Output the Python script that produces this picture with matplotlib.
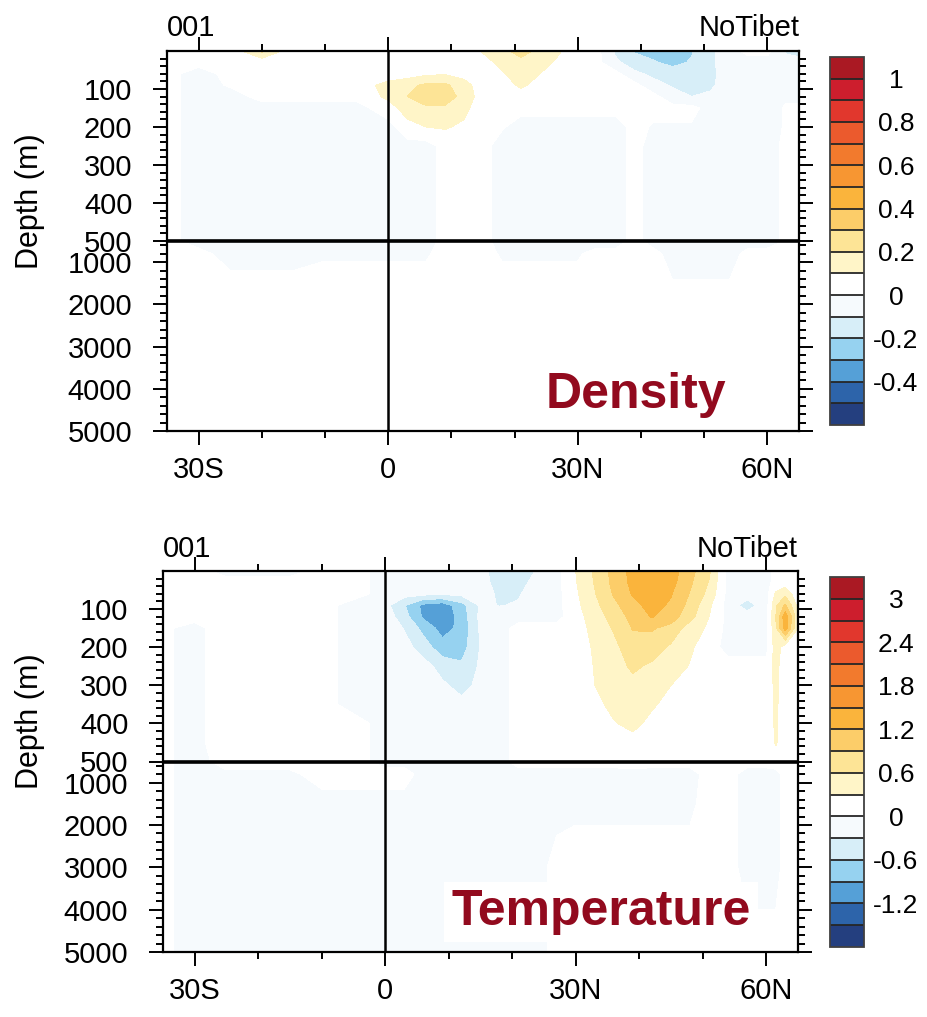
import numpy as np
import matplotlib.pyplot as plt

plt.rcParams['font.family'] = ['Liberation Sans', 'DejaVu Sans']

# grid: latitude (deg, negative = south) and depth (m)
lats = [-35, -30, -25, -20, -15, -10, -5, 0, 3, 6, 9, 12, 15, 18, 21, 24, 27,
        30, 33, 36, 39, 42, 45, 48, 51, 54, 57, 60, 61.5, 63, 65]
depths = [0, 30, 60, 90, 120, 150, 200, 250, 300, 350, 400, 450, 500,
          800, 1500, 3000, 5000]

# density anomaly, in units of 0.01 (one row per depth)
density_x100 = [
    [3, 3, 3, 22, 3, 3, 3, 3, 3, 3, 3, 3, 11, 17, 24, 17, 11, 4, 3, -12, -21, -24, -27, -21, -12, -4, 3, 3, -5, -12, -14],
    [3, 3, 3, 3, 3, 3, 3, 3, 3, 3, 3, 3, 6, 13, 17, 14, 8, 3, 3, -8, -15, -19, -23, -19, -12, -4, -4, -4, -4, -5, -6],
    [3, -4, 3, 3, 3, 3, 3, 3, 5, 8, 9, 6, 3, 9, 14, 10, 4, 3, 3, 3, -8, -12, -15, -16, -13, -4, -4, -4, -4, -4, -4],
    [3, -4, 1, 3, 3, 3, 4, 14, 17, 22, 22, 14, 4, 5, 12, 6, 3, 3, 3, 3, 3, -7, -11, -14, -12, -4, -4, -4, -4, -4, -4],
    [3, -4, -4, 3, 3, 3, 3, 12, 20, 27, 26, 16, 5, 3, 4, 3, 3, 3, 3, 3, 3, 3, -6, -10, -8, -4, -4, -4, -4, -4, -4],
    [3, -4, -4, -4, -4, -4, -4, 6, 14, 18, 18, 13, 3, 3, 3, 3, 3, 3, 3, 3, 3, 3, 3, 3, -4, -4, -4, -4, -4, 3, 3],
    [3, -4, -4, -4, -4, -4, -4, -4, 7, 10, 11, 8, 3, 1, -4, -4, -4, -4, -4, -4, 3, -1, -1, -1, -4, -4, -4, -4, -4, 3, 3],
    [3, -4, -4, -4, -4, -4, -4, -4, -4, -4, 3, 3, 3, -4, -4, -4, -4, -4, -4, -4, 3, -4, -4, -4, -4, -4, -4, -4, -1, 3, 3],
    [3, -4, -4, -4, -4, -4, -4, -4, -4, -4, 3, 3, 3, -4, -4, -4, -4, -4, -4, -4, 3, -4, -4, -4, -4, -4, -4, -4, -1, 3, 3],
    [3, -4, -4, -4, -4, -4, -4, -4, -4, -4, 3, 3, 3, -4, -4, -4, -4, -4, -4, -4, 3, -4, -4, -4, -4, -4, -4, -4, -1, 3, 3],
    [3, -4, -4, -4, -4, -4, -4, -4, -4, -4, 3, 3, 3, -4, -4, -4, -4, -4, -4, -4, 3, -4, -4, -4, -4, -4, -4, -4, -1, 3, 3],
    [3, -4, -4, -4, -4, -4, -4, -4, -4, -4, 3, 3, 3, -4, -4, -4, -4, -4, -4, -4, 3, -4, -4, -4, -4, -4, -4, -4, -1, 3, 3],
    [3, -4, -4, -4, -4, -4, -4, -4, -4, -4, 3, 3, 3, -4, -4, -4, -4, -4, -4, -4, 3, -4, -4, -4, -4, -4, -4, -4, -1, 3, 3],
    [3, 3, -4, -4, -4, -1, -1, -1, -1, -1, 3, 3, 3, -1, -1, -1, -1, -1, 3, 3, 3, 3, -4, -4, -4, -4, 3, 3, 3, 3, 3],
    [3, 3, 3, 3, 3, 3, 3, 3, 3, 3, 3, 3, 3, 3, 3, 3, 3, 3, 3, 3, 3, 3, 0.5, 0.5, 0.5, 0.5, 3, 3, 3, 3, 3],
    [3, 3, 3, 3, 3, 3, 3, 3, 3, 3, 3, 3, 3, 3, 3, 3, 3, 3, 3, 3, 3, 3, 3, 3, 3, 3, 3, 3, 3, 3, 3],
    [3, 3, 3, 3, 3, 3, 3, 3, 3, 3, 3, 3, 3, 3, 3, 3, 3, 3, 3, 3, 3, 3, 3, 3, 3, 3, 3, 3, 3, 3, 3],
]

# temperature anomaly, in units of 0.01 degC
temperature_x100 = [
    [10, 10, -10, -10, -10, 10, 10, -10, -10, -10, -10, -10, -22, -42, -42, -28, -10, 30, 65, 100, 130, 140, 135, 100, 65, -10, -10, -10, 10, 10, 10],
    [10, 10, 10, 10, 10, 10, 10, -10, -10, -12, -12, -12, -20, -40, -38, -22, -10, 28, 62, 98, 128, 142, 130, 95, 58, -10, -10, -10, 10, 15, 10],
    [10, 10, 10, 10, 10, 10, 10, -10, -18, -22, -25, -22, -15, -36, -32, -18, -10, 25, 58, 93, 123, 140, 122, 88, 50, -10, -15, -10, 35, 50, 10],
    [10, 10, 10, 10, 10, 10, -10, -20, -58, -98, -108, -72, -25, -31, -28, -12, -10, 22, 52, 82, 110, 132, 115, 80, 36, -12, -45, -12, 55, 95, 20],
    [10, 10, 10, 10, 10, 10, -10, -12, -48, -95, -112, -78, -22, -18, -12, -10, -10, 18, 45, 72, 100, 122, 105, 70, 30, -10, -15, -10, 60, 140, 35],
    [5, -10, 20, 10, 10, 10, -10, -8, -32, -70, -102, -82, -25, -12, 10, 10, 10, 15, 40, 63, 92, 93, 80, 45, 25, -10, -10, -10, 55, 135, 30],
    [5, -10, 20, 10, 10, 10, -10, -10, -18, -45, -78, -74, -28, -10, 10, 10, 10, 10, 35, 52, 78, 75, 55, 35, 12, -10, -10, -10, 45, 15, 10],
    [5, -10, 20, 10, 10, 10, -10, -10, -12, -18, -42, -55, -25, -10, 10, 10, 10, 8, 32, 48, 65, 55, 45, 28, 10, 10, 10, 10, 40, 10, 10],
    [5, -10, 20, 10, 10, 10, -10, -10, -10, -12, -25, -40, -22, -10, 10, 10, 10, 5, 30, 42, 52, 45, 30, 18, 10, 10, 10, 10, 38, 10, 10],
    [5, -10, 20, 10, 10, 10, -10, -10, -10, -10, -15, -22, -15, -10, 10, 10, 10, 5, 22, 38, 45, 34, 20, 10, 10, 10, 10, 10, 36, 10, 10],
    [5, -10, 20, 10, 10, 10, 10, -10, -10, -10, -10, -10, -10, -10, 10, 10, 10, 5, 15, 28, 38, 22, 10, 10, 10, 10, 10, 10, 35, 10, 10],
    [5, -10, 20, 10, 10, 10, 10, -10, -10, -10, -10, -10, -10, -10, 10, 10, 10, 5, 10, 15, 20, 15, 10, 10, 10, 10, 10, 10, 33, 10, 10],
    [5, -10, 10, 10, 10, 10, 10, -10, -10, -10, -10, -10, -10, -10, 10, 10, 10, 10, 10, 10, 12, 10, 10, 10, 10, 10, 10, 10, 15, 10, 10],
    [5, -10, -5, -5, -5, 10, 10, 10, 10, -10, -10, -10, -10, -10, -10, -10, -10, -10, -10, -10, -10, -10, -10, -10, 10, 10, -10, -10, -10, 10, 10],
    [5, -10, -10, -10, -10, -10, -10, -10, -10, -10, -10, -10, -10, -10, -10, -10, -10, -5, -5, -5, -5, -5, -5, -5, 10, 10, -10, -10, -10, 10, 10],
    [5, -10, -10, -10, -10, -10, -10, -10, -10, -10, -10, -10, -10, -10, -10, -10, 10, 10, 10, 10, 10, 10, 10, 10, 10, 10, -10, -10, -10, 10, 10],
    [5, -10, -10, -10, -10, -10, -10, -10, -10, -10, -10, -10, -10, -10, -10, -10, 10, 10, 10, 10, 10, 10, 10, 10, 10, 10, 10, 10, 10, 10, 10],
]

density_levels = [-0.5, -0.4, -0.3, -0.2, -0.1, 0, 0.1, 0.2, 0.3, 0.4, 0.5, 0.6, 0.7, 0.8, 0.9, 1.0]
density_ticks = [1.0, 0.8, 0.6, 0.4, 0.2, 0, -0.2, -0.4]
density_ticklabels = ['1', '0.8', '0.6', '0.4', '0.2', '0', '-0.2', '-0.4']

temp_levels = [-1.5, -1.2, -0.9, -0.6, -0.3, 0, 0.3, 0.6, 0.9, 1.2, 1.5, 1.8, 2.1, 2.4, 2.7, 3.0]
temp_ticks = [3.0, 2.4, 1.8, 1.2, 0.6, 0, -0.6, -1.2]
temp_ticklabels = ['3', '2.4', '1.8', '1.2', '0.6', '0', '-0.6', '-1.2']

# 17 fill colours, low to high (ends are the out-of-range boxes)
fill_colors = ['#243F7F', '#2D64AA', '#55A0D7', '#96D2F0', '#D7EEF8', '#F6FAFD',
               '#FFFFFF', '#FFF5C8', '#FDE496', '#FCCD69', '#FAB43C', '#F79632',
               '#F27A2D', '#EB5A2D', '#E1372D', '#CD1E2D', '#AA1923']

depth_major = [100, 200, 300, 400, 500, 1000, 2000, 3000, 4000, 5000]
depth_labels = ['100', '200', '300', '400', '500', '1000', '2000', '3000', '4000', '5000']
depth_minor = [20, 40, 60, 80, 120, 140, 160, 180, 220, 240, 260, 280, 320, 340, 360, 380,
               420, 440, 460, 480, 600, 800, 1200, 1400, 1600, 1800, 2200, 2400, 2600, 2800,
               3200, 3400, 3600, 3800, 4200, 4400, 4600, 4800]
lat_major = [-30, 0, 30, 60]
lat_labels = ['30S', '0', '30N', '60N']
lat_minor = [-20, -10, 10, 20, 40, 50]


# upper 500 m and the 500-5000 m part each take half of the axis height
def depth_fwd(d):
    d = np.asarray(d, dtype=float)
    return np.where(d <= 500, d / 500.0, 1.0 + (d - 500.0) / 4500.0)


def depth_inv(y):
    y = np.asarray(y, dtype=float)
    return np.where(y <= 1.0, y * 500.0, 500.0 + (y - 1.0) * 4500.0)


W, H = 928, 1017
fig = plt.figure(figsize=(W / 100, H / 100), dpi=100)


def fbox(x0, y0, x1, y1):
    # pixel box (top-left origin) -> figure fraction rect
    return [x0 / W, 1 - y1 / H, (x1 - x0) / W, (y1 - y0) / H]


def panel(rect, crect, field, scale, levels, ticks, ticklabels, ytop, title_x0, title_x1):
    ax = fig.add_axes(fbox(*rect))
    z = np.array(field, dtype=float) / scale
    cs = ax.contourf(lats, depths, z, levels=levels, colors=fill_colors, extend='both')
    ax.set_yscale('function', functions=(depth_fwd, depth_inv))
    ax.set_ylim(5000, 0)
    ax.set_xlim(-35, 65)

    ax.axhline(500, color='black', lw=2.6, zorder=3)
    ax.axvline(0, color='black', lw=1.8, zorder=3)

    ax.set_yticks(depth_major, depth_labels)
    ax.set_yticks(depth_minor, minor=True)
    ax.set_xticks(lat_major, lat_labels)
    ax.set_xticks(lat_minor, minor=True)
    ax.tick_params(which='both', direction='out', top=True, right=True, width=1.4, color='black')
    ax.tick_params(which='major', length=10, labelsize=21)
    ax.tick_params(which='minor', length=5)
    ax.tick_params(axis='y', pad=15)
    ax.tick_params(axis='x', pad=8)
    for sp in ax.spines.values():
        sp.set_linewidth(1.6)

    fig.text(30 / W, 1 - (rect[1] + 150) / H, 'Depth (m)', rotation=90, fontsize=22,
             ha='center', va='center')
    fig.text(title_x0 / W, 1 - ytop / H, '001', fontsize=21, ha='left', va='baseline')
    fig.text(title_x1 / W, 1 - ytop / H, 'NoTibet', fontsize=21, ha='right', va='baseline')

    cax = fig.add_axes(fbox(*crect))
    cb = fig.colorbar(cs, cax=cax, extendrect=True, extendfrac='auto', drawedges=True)
    cb.set_ticks(ticks, labels=ticklabels)
    cb.ax.tick_params(length=0, labelsize=19, pad=23)
    for t in cb.ax.get_yticklabels():
        t.set_ha('center')
    cb.outline.set_linewidth(1.3)
    cb.outline.set_edgecolor('0.25')
    cb.dividers.set_linewidth(1.3)
    cb.dividers.set_color('0.15')

    return ax


panel((167, 51, 799, 431), (830, 57, 864, 425), density_x100, 100.0,
      density_levels, density_ticks, density_ticklabels, 36, 167, 800)
panel((163, 571, 798, 952), (830, 577, 864, 947), temperature_x100, 100.0,
      temp_levels, temp_ticks, temp_ticklabels, 557, 163, 798)

red = '#920A1E'
fig.text(636 / W, 1 - 408 / H, 'Density', fontsize=36, fontweight='bold', color=red,
         ha='center', va='baseline',
         bbox=dict(facecolor='white', edgecolor='none', pad=5))
fig.text(601 / W, 1 - 925 / H, 'Temperature', fontsize=36, fontweight='bold', color=red,
         ha='center', va='baseline',
         bbox=dict(facecolor='white', edgecolor='none', pad=5))

fig.savefig('out.png', dpi=100)
